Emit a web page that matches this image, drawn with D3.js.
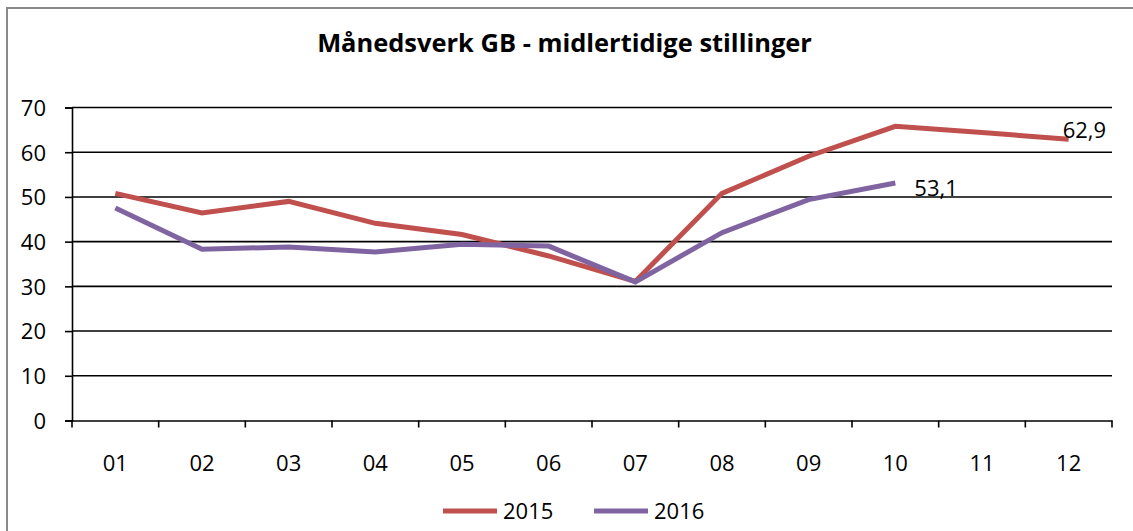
<!DOCTYPE html>
<html>
<head>
<meta charset="utf-8">
<script src="https://cdn.jsdelivr.net/npm/d3@7"></script>
<style>
  body { margin: 0; background: #fff; }
  text { font-family: "Open Sans", Lato, sans-serif; fill: #000; }
</style>
</head>
<body>
<div id="chart"></div>
<script>
var months = ["01","02","03","04","05","06","07","08","09","10","11","12"];
var values2015 = [50.8, 46.4, 49.0, 44.1, 41.6, 36.8, 31.1, 50.8, 59.1, 65.8, 64.4, 62.9];
var values2016 = [47.5, 38.3, 38.8, 37.7, 39.4, 39.0, 31.0, 42.0, 49.4, 53.1];
var yTicks = [0, 10, 20, 30, 40, 50, 60, 70];
var seriesNames = ["2015", "2016"];
var colors = ["#c0504d", "#8064a2"];

var width = 1133,
    height = 531;

var svg = d3.select("#chart").append("svg")
    .attr("width", width)
    .attr("height", height);

// outer chart border, only left and top show inside the picture
svg.append("rect")
    .attr("x", 7).attr("y", 8)
    .attr("width", 1140).attr("height", 540)
    .attr("fill", "none")
    .attr("stroke", "#898989")
    .attr("stroke-width", 2);

var x = d3.scaleBand().domain(months).range([72, 1112]);
var y = d3.scaleLinear().domain([0, 70]).range([420.5, 107.5]);

// gridlines
svg.append("g")
    .selectAll("line")
    .data(yTicks.slice(1)).enter().append("line")
    .attr("x1", 72).attr("x2", 1112)
    .attr("y1", function(d) { return y(d); })
    .attr("y2", function(d) { return y(d); })
    .attr("stroke", "#000")
    .attr("stroke-width", 1.6);

var yAxis = svg.append("g")
    .attr("transform", "translate(72,0)")
    .call(d3.axisLeft(y).tickValues(yTicks).tickSize(7).tickPadding(19));
yAxis.selectAll("text").style("font-size", "22px").attr("dy", "0.36em");

var xAxis = svg.append("g")
    .attr("transform", "translate(0," + y(0) + ")")
    .call(d3.axisBottom(x).tickSize(0).tickPadding(35));
xAxis.selectAll("text").style("font-size", "22px");

// ticks between categories
svg.append("g")
    .selectAll("line")
    .data(d3.range(months.length + 1)).enter().append("line")
    .attr("x1", function(d) { return 72 + d * x.step(); })
    .attr("x2", function(d) { return 72 + d * x.step(); })
    .attr("y1", y(0))
    .attr("y2", y(0) + 7)
    .attr("stroke", "#000")
    .attr("stroke-width", 1.6);

svg.selectAll(".domain").attr("stroke", "#000").attr("stroke-width", 1.6);
svg.selectAll(".tick line").attr("stroke-width", 1.6);

var line = d3.line()
    .x(function(d, i) { return x(months[i]) + x.bandwidth() / 2; })
    .y(function(d) { return y(d); });

[values2015, values2016].forEach(function(vals, i) {
    svg.append("path")
        .datum(vals)
        .attr("d", line)
        .attr("fill", "none")
        .attr("stroke", colors[i])
        .attr("stroke-width", 5);
});

// data labels at last point
var fmt = function(v) { return String(v).replace(".", ","); };
var last15 = values2015.length - 1, last16 = values2016.length - 1;
svg.append("text")
    .attr("x", x(months[last15]) + x.bandwidth() / 2 - 6)
    .attr("y", y(values2015[last15]) - 1)
    .style("font-size", "22px")
    .text(fmt(values2015[last15]));
svg.append("text")
    .attr("x", x(months[last16]) + x.bandwidth() / 2 + 19)
    .attr("y", y(values2016[last16]) + 13)
    .style("font-size", "22px")
    .text(fmt(values2016[last16]));

// title, fitted to the width it has in the original
var title = svg.append("text")
    .attr("x", 564.5)
    .attr("y", 52)
    .attr("text-anchor", "middle")
    .style("font-weight", "bold")
    .style("font-size", "24px")
    .text("Månedsverk GB - midlertidige stillinger");
var tw = title.node().getComputedTextLength();
title.style("font-size", (24 * 495 / tw) + "px");

// legend
var legend = svg.append("g").selectAll("g")
    .data(seriesNames).enter().append("g")
    .attr("transform", function(d, i) { return "translate(" + (443 + i * 151) + ",511)"; });
legend.append("line")
    .attr("x1", 0).attr("x2", 54)
    .attr("stroke", function(d, i) { return colors[i]; })
    .attr("stroke-width", 5);
legend.append("text")
    .attr("x", 60)
    .attr("dy", "0.36em")
    .style("font-size", "22px")
    .text(function(d) { return d; });
</script>
</body>
</html>
